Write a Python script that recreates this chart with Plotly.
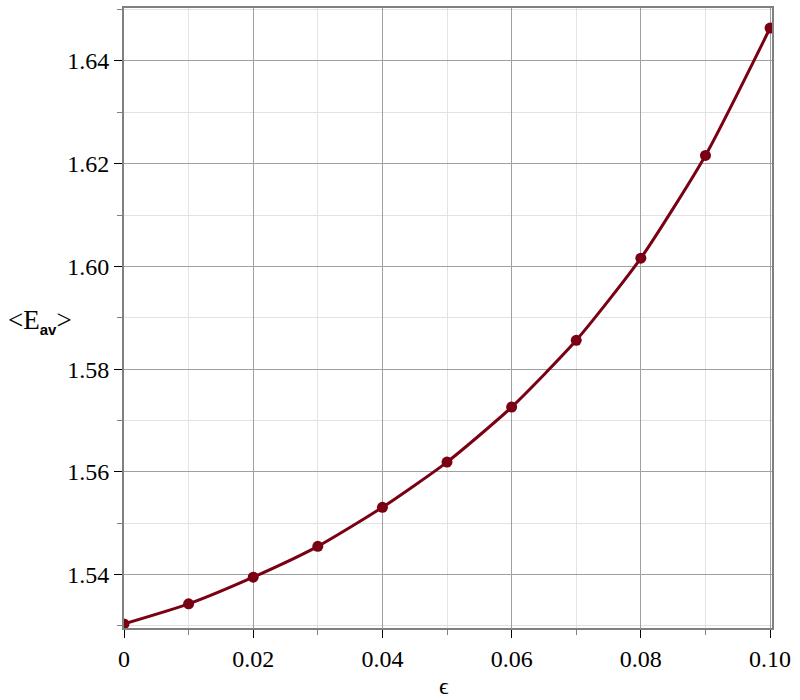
import plotly.graph_objects as go

# data
eps = [0.0, 0.01, 0.02, 0.03, 0.04, 0.05, 0.06, 0.07, 0.08, 0.09, 0.10]
e_av = [1.5304, 1.5343, 1.5395, 1.5455, 1.5531, 1.5619, 1.5726, 1.5856, 1.6016, 1.6216, 1.6464]

x_ticks = [0, 0.02, 0.04, 0.06, 0.08, 0.10]
x_ticktext = ["0", "0.02", "0.04", "0.06", "0.08", "0.10"]
y_ticks = [1.54, 1.56, 1.58, 1.60, 1.62, 1.64]
y_ticktext = ["1.54", "1.56", "1.58", "1.60", "1.62", "1.64"]

RED = "#7a0014"
SERIF = "'Liberation Serif', 'Times New Roman', Times, serif"

fig = go.Figure()
fig.add_trace(go.Scatter(
    x=eps, y=e_av, mode="lines+markers",
    line=dict(color=RED, width=3, shape="spline", smoothing=0.6),
    marker=dict(color=RED, size=11),
    showlegend=False,
))

axis_common = dict(
    showline=True, linecolor="#808080", linewidth=2, mirror=True,
    showgrid=True, gridcolor="#a0a0a0", gridwidth=1,
    ticks="outside", ticklen=8, tickcolor="#000000", tickwidth=1,
    tickfont=dict(family=SERIF, size=24, color="black"),
    zeroline=False,
)

fig.update_xaxes(
    range=[0, 0.1003], tickvals=x_ticks, ticktext=x_ticktext,
    minor=dict(dtick=0.01, tick0=0, ticks="outside", ticklen=5, tickcolor="#808080",
               showgrid=True, gridcolor="#e3e3e3", gridwidth=1),
    **axis_common,
)
fig.update_yaxes(
    range=[1.5296, 1.6503], tickvals=y_ticks, ticktext=y_ticktext,
    minor=dict(dtick=0.01, tick0=1.53, ticks="outside", ticklen=5, tickcolor="#808080",
               showgrid=True, gridcolor="#e3e3e3", gridwidth=1),
    **axis_common,
)

# axis labels
fig.add_annotation(
    text="&lt;E<sub><span style='font-family:Liberation Sans;font-weight:bold;font-size:15px'>av</span></sub>&gt;",
    xref="paper", yref="paper", x=-0.13, y=0.495, showarrow=False,
    xanchor="center", yanchor="middle",
    font=dict(family=SERIF, size=27, color="black"),
)
fig.add_annotation(
    text="ϵ", xref="paper", yref="paper", x=0.494, y=-0.094, showarrow=False,
    xanchor="center", yanchor="middle",
    font=dict(family=SERIF, size=24, color="black"),
)

fig.update_layout(
    width=800, height=700,
    margin=dict(l=124, r=28, t=6, b=72),
    plot_bgcolor="white", paper_bgcolor="white",
)

# page margin off so the figure sits at the window corner
fig.write_html("out.html", config={"displayModeBar": False},
               post_script="document.body.style.margin='0';")
